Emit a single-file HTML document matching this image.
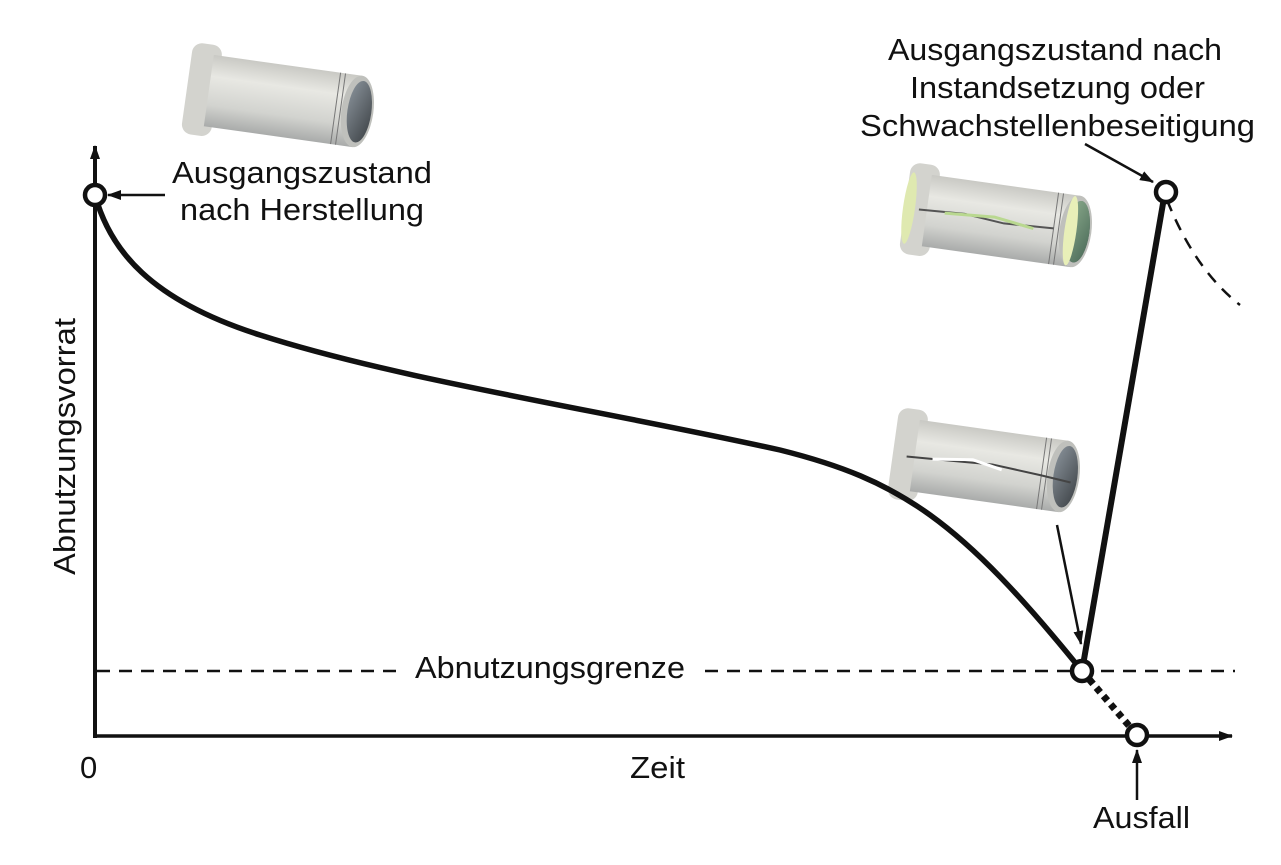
<!DOCTYPE html>
<html><head><meta charset="utf-8"><style>
html,body{margin:0;padding:0;background:#fff}
svg{display:block}
text{font-family:"Liberation Sans",sans-serif;font-size:31px;fill:#111}
</style></head><body>
<svg width="1281" height="865" viewBox="0 0 1281 865" xmlns="http://www.w3.org/2000/svg">
<defs>
<linearGradient id="body" x1="0" y1="0" x2="0" y2="1">
<stop offset="0" stop-color="#c9c9c4"/><stop offset="0.3" stop-color="#e8e8e3"/><stop offset="0.7" stop-color="#d2d3cf"/><stop offset="1" stop-color="#a9abaa"/>
</linearGradient>
<linearGradient id="inner" x1="0" y1="0" x2="1" y2="1">
<stop offset="0" stop-color="#8a939b"/><stop offset="1" stop-color="#3d4246"/>
</linearGradient>
<linearGradient id="inner2" x1="0" y1="0" x2="1" y2="1">
<stop offset="0" stop-color="#8fae8f"/><stop offset="1" stop-color="#4a6a58"/>
</linearGradient>
<marker id="ah" markerWidth="14" markerHeight="10" refX="13" refY="5" orient="auto" markerUnits="userSpaceOnUse">
<path d="M0,0 L14,5 L0,10 Z" fill="#111"/></marker>
<g id="pipe">
<rect x="0" y="4" width="30" height="92" rx="10" fill="#d3d3ce"/>
<rect x="22" y="14" width="150" height="72" fill="url(#body)"/>
<line x1="150" y1="14" x2="150" y2="86" stroke="#777" stroke-width="1"/>
<line x1="155" y1="14" x2="155" y2="86" stroke="#777" stroke-width="1"/>
<ellipse cx="172" cy="50" rx="16" ry="36" fill="#bfc0bc"/>
<ellipse cx="174" cy="50" rx="12" ry="31" fill="url(#inner)"/>
</g>
</defs>

<g transform="translate(194,38) rotate(8)"><use href="#pipe"/></g>
<g transform="translate(912,158) rotate(8)">
<use href="#pipe"/>
<ellipse cx="4" cy="50" rx="6" ry="36" fill="#dfe9b0"/>
<ellipse cx="174" cy="50" rx="12" ry="31" fill="url(#inner2)"/>
<ellipse cx="167" cy="50" rx="6" ry="35" fill="#e8efb8"/>
<path d="M14,50 L60,48 L100,52 L150,50" stroke="#555" stroke-width="2" fill="none"/>
<path d="M40,50 L90,47 L130,53" stroke="#b9d890" stroke-width="3" fill="none"/>
</g>
<g transform="translate(900,403) rotate(8)">
<use href="#pipe"/>
<path d="M14,52 L60,50 L100,48 L150,52 L180,55" stroke="#444" stroke-width="2" fill="none"/>
<path d="M40,51 L80,46 L110,52" stroke="#fff" stroke-width="3" fill="none"/>
</g>

<line x1="95" y1="738" x2="95" y2="146" stroke="#111" stroke-width="4" marker-end="url(#ah)"/>
<line x1="93" y1="736" x2="1232" y2="736" stroke="#111" stroke-width="3.5" marker-end="url(#ah)"/>

<line x1="97" y1="671" x2="405" y2="671" stroke="#111" stroke-width="2.5" stroke-dasharray="13,9"/>
<line x1="705" y1="671" x2="1235" y2="671" stroke="#111" stroke-width="2.5" stroke-dasharray="13,9"/>

<path d="M95,195 C110,250 150,300 260,335 C400,380 600,410 780,450 C900,480 960,520 1082,671" stroke="#111" stroke-width="5.5" fill="none"/>
<line x1="1082" y1="671" x2="1137" y2="735" stroke="#111" stroke-width="7" stroke-dasharray="6,5"/>
<line x1="1082" y1="671" x2="1165" y2="192" stroke="#111" stroke-width="6"/>
<path d="M1167,200 Q1195,270 1240,305" stroke="#111" stroke-width="2.5" fill="none" stroke-dasharray="12,9"/>

<circle cx="95" cy="195" r="10" fill="#fff" stroke="#111" stroke-width="4.5"/>
<circle cx="1082" cy="671" r="10" fill="#fff" stroke="#111" stroke-width="4.5"/>
<circle cx="1137" cy="735" r="10" fill="#fff" stroke="#111" stroke-width="4.5"/>
<circle cx="1166" cy="192" r="10" fill="#fff" stroke="#111" stroke-width="4.5"/>

<line x1="165" y1="195" x2="108" y2="195" stroke="#111" stroke-width="2.5" marker-end="url(#ah)"/>
<line x1="1085" y1="144" x2="1153" y2="182" stroke="#111" stroke-width="2.5" marker-end="url(#ah)"/>
<line x1="1057" y1="525" x2="1081" y2="644" stroke="#111" stroke-width="2.5" marker-end="url(#ah)"/>
<line x1="1137" y1="800" x2="1137" y2="750" stroke="#111" stroke-width="2.5" marker-end="url(#ah)"/>

<text x="172" y="183" textLength="260" lengthAdjust="spacingAndGlyphs">Ausgangszustand</text>
<text x="180" y="220" textLength="244" lengthAdjust="spacingAndGlyphs">nach Herstellung</text>
<text x="888" y="60" textLength="334" lengthAdjust="spacingAndGlyphs">Ausgangszustand nach</text>
<text x="910" y="98" textLength="295" lengthAdjust="spacingAndGlyphs">Instandsetzung oder</text>
<text x="860" y="136" textLength="395" lengthAdjust="spacingAndGlyphs">Schwachstellenbeseitigung</text>
<text x="415" y="678" textLength="270" lengthAdjust="spacingAndGlyphs">Abnutzungsgrenze</text>
<text x="630" y="778" textLength="55" lengthAdjust="spacingAndGlyphs">Zeit</text>
<text x="80" y="778">0</text>
<text x="1093" y="828" textLength="97" lengthAdjust="spacingAndGlyphs">Ausfall</text>
<text transform="translate(75,575) rotate(-90)" textLength="257" lengthAdjust="spacingAndGlyphs">Abnutzungsvorrat</text>
</svg>
</body></html>
